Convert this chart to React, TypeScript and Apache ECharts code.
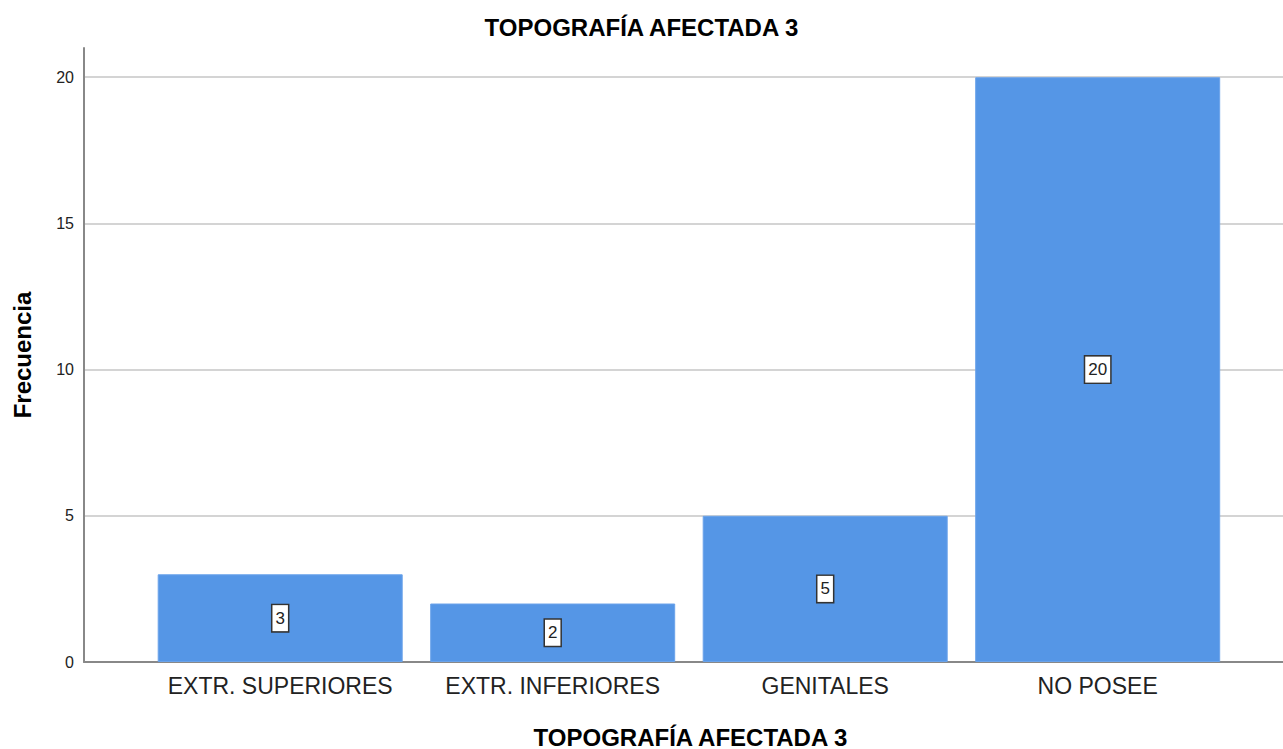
import React, { useEffect, useRef } from "react";
import * as echarts from "echarts";

const categories = ["EXTR. SUPERIORES", "EXTR. INFERIORES", "GENITALES", "NO POSEE"];
const frequencies = [3, 2, 5, 20];
const chartTitle = "TOPOGRAFÍA AFECTADA 3";
const yName = "Frecuencia";

export default function App() {
  const ref = useRef<HTMLDivElement>(null);
  useEffect(() => {
    if (!ref.current) return;
    const chart = echarts.init(ref.current, null, { renderer: "svg" });
    const font = "'Liberation Sans', Arial, sans-serif";
    chart.setOption({
      animation: false,
      backgroundColor: "#ffffff",
      textStyle: { fontFamily: font },
      title: {
        text: chartTitle,
        left: "center",
        top: 10,
        textStyle: { fontFamily: font, fontSize: 24, fontWeight: "bold", color: "#000" },
      },
      grid: { left: 84, right: 0, top: 48, bottom: 87, containLabel: false, outerBoundsMode: "none" },
      xAxis: {
        type: "value",
        min: -0.72,
        max: 3.68,
        name: chartTitle,
        nameLocation: "middle",
        nameGap: 63,
        nameTextStyle: {
          fontFamily: font,
          fontSize: 24,
          fontWeight: "bold",
          color: "#000",
          padding: [0, 0, 0, 14],
        },
        axisLine: { show: true, onZero: false, lineStyle: { color: "#888", width: 2 } },
        axisTick: { show: false },
        splitLine: { show: false },
        axisLabel: {
          customValues: categories.map((_, i) => i),
          formatter: (v: number) => categories[Math.round(v)] ?? "",
          fontFamily: font,
          fontSize: 23,
          color: "#222",
          margin: 12,
        },
      },
      yAxis: {
        type: "value",
        min: 0,
        max: 21,
        interval: 5,
        name: yName,
        nameLocation: "middle",
        nameGap: 50,
        nameTextStyle: { fontFamily: font, fontSize: 24, fontWeight: "bold", color: "#000" },
        axisLine: { show: true, onZero: false, lineStyle: { color: "#888", width: 2 } },
        axisTick: { show: false },
        splitLine: { show: true, showMaxLine: false, lineStyle: { color: "#d4d4d4", width: 2 } },
        axisLabel: { fontFamily: font, fontSize: 16, color: "#222", margin: 10, showMaxLabel: false },
      },
      series: [
        {
          type: "bar",
          barWidth: 245,
          data: frequencies.map((v, i) => [i, v]),
          itemStyle: { color: "#5596e6", borderColor: "#6aa3ea", borderWidth: 1 },
          label: {
            show: true,
            position: "inside",
            fontFamily: font,
            fontSize: 17,
            color: "#222",
            backgroundColor: "#ffffff",
            borderColor: "#333",
            borderWidth: 1.5,
            padding: [5, 3, 4, 3],
          },
        },
      ],
    });
    return () => chart.dispose();
  }, []);
  return (
    <div
      ref={ref}
      style={{ position: "fixed", left: 0, top: 0, width: 1283, height: 749 }}
    />
  );
}
